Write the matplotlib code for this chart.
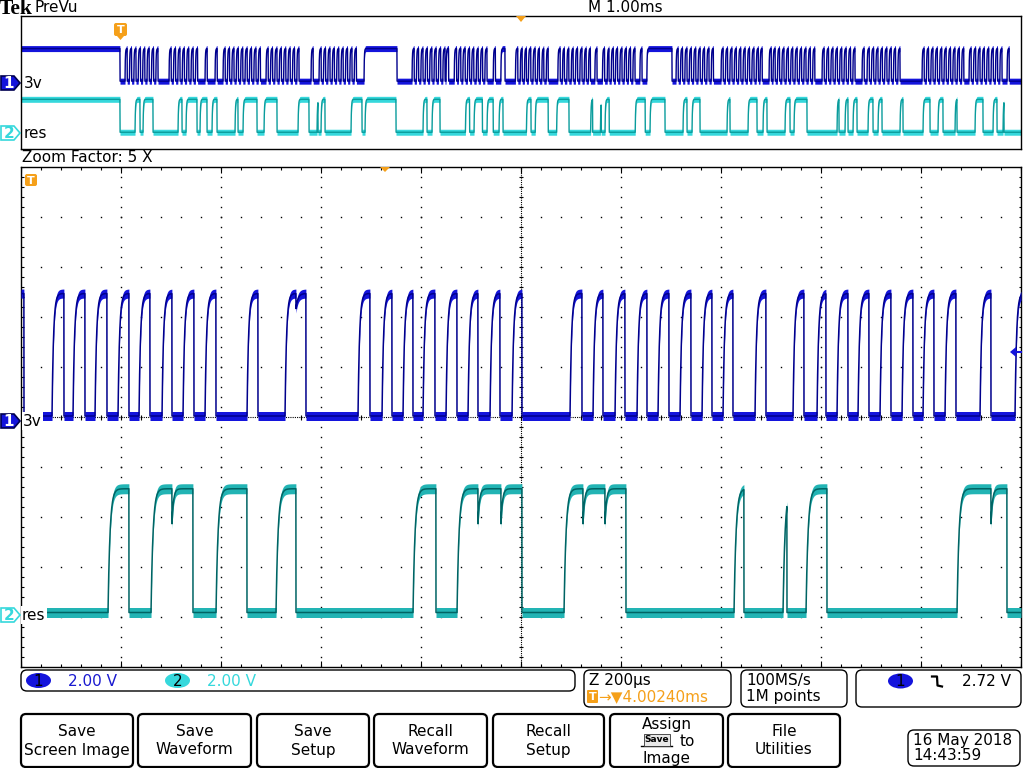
import numpy as np
import matplotlib
matplotlib.use("Agg")
import matplotlib.pyplot as plt
from matplotlib.patches import FancyBboxPatch, Polygon, Ellipse

W, H = 1024, 768

# ---- zoomed window, 200 us/div: times in us from the left edge, levels in volts
ch1_pulses = [(-20, 6), (62, 86), (104, 128), (148, 172), (194, 216), (236, 258),
              (282, 302), (324, 346), (368, 390), (452, 474), (528, 570),
              (674, 698), (722, 742), (764, 784), (804, 828), (850, 872),
              (894, 914), (938, 958), (982, 1002), (1098, 1122), (1144, 1164),
              (1188, 1208), (1232, 1252), (1274, 1296), (1318, 1340), (1362, 1382),
              (1404, 1424), (1468, 1490), (1544, 1566), (1592, 1610), (1632, 1654),
              (1674, 1696), (1718, 1740), (1762, 1784), (1804, 1826), (1848, 1870),
              (1918, 1940), (1988, 2010)]
ch1_dips = [550]
ch2_pulses = [(174, 216), (260, 344), (390, 452), (510, 550), (784, 830),
              (872, 1002), (1086, 1210), (1426, 1446), (1524, 1532),
              (1570, 1612), (1872, 1972)]
ch2_dips = [302, 914, 960, 1124, 1168, 1940]

ch1_low, ch1_high = 0.2, 5.1
ch2_low, ch2_high = 0.1, 5.05
volts_per_div = 2.0
ch1_gnd_div = -0.08
ch2_gnd_div = -3.96

# ---- preview (PreVu), 1 ms/div: times in ms
zoom_start_ms = 4.27
clock_period = 0.044
clock_high = 0.022
pv_ch1_long = [(-0.1, 0.99), (3.43, 3.76), (6.26, 6.51)]
pv_ch1_bursts = [(1.04, 8), (1.48, 7), (1.84, 1), (1.94, 1), (2.02, 9), (2.45, 8),
                 (2.90, 1), (2.98, 9), (3.91, 8), (6.55, 9), (7.00, 9), (7.39, 1),
                 (7.48, 1), (7.52, 10), (8.01, 8), (8.41, 1), (8.46, 8), (9.01, 10),
                 (9.48, 8), (9.86, 1)]
pv_ch2_pulses = [(-0.1, 0.99), (1.14, 1.19), (1.22, 1.32), (1.57, 1.61), (1.65, 1.76),
                 (1.79, 1.86), (1.91, 1.96), (2.14, 2.17), (2.22, 2.36), (2.43, 2.56),
                 (2.77, 2.88), (2.96, 2.97), (3.00, 3.04), (3.30, 3.41), (3.44, 3.75),
                 (4.02, 4.06), (4.11, 4.19), (6.29, 6.44), (6.62, 6.66), (6.71, 6.79),
                 (7.06, 7.09), (7.27, 7.36), (7.42, 7.46), (7.64, 7.69), (7.73, 7.86),
                 (8.16, 8.18), (8.24, 8.27), (8.32, 8.36), (8.47, 8.52), (8.57, 8.61),
                 (8.79, 8.82), (9.02, 9.09), (9.17, 9.22), (9.34, 9.36), (9.54, 9.62),
                 (9.72, 9.76), (9.82, 9.83)]
pv_ch1_gnd = 10.0
pv_ch2_gnd = 2.42

buttons = [(21, 133, "Save\nScreen Image"), (138, 251, "Save\nWaveform"),
           (257, 369, "Save\nSetup"), (374, 487, "Recall\nWaveform"),
           (493, 604, "Recall\nSetup"), (610, 723, None), (728, 840, "File\nUtilities")]

BLUE = '#1414dc'
NAVY = '#00008c'
TEAL = '#22b4b4'
DTEAL = '#006464'
CYAN = '#36d8dc'
ORANGE = '#f5a01a'


def merge(pulses):
    out = []
    for r, f in sorted(pulses):
        if out and r <= out[-1][1]:
            out[-1] = (out[-1][0], max(out[-1][1], f))
        else:
            out.append((r, f))
    return out


def build_trace(t, pulses, dips, low, high, tau, dip_depth=1.2, dip_tau=3.0):
    v = np.full(t.shape, low)
    for r, f in pulses:
        on = (t >= r) & (t < f)
        v[on] = low + (high - low) * (1 - np.exp(-(t[on] - r) / tau))
    for d in dips:
        for r, f in pulses:
            if r < d < f:
                on = (t >= d) & (t < f)
                v[on] -= dip_depth * np.exp(-(t[on] - d) / dip_tau)
    return v


def px_axes(x0, y0, x1, y1):
    return fig.add_axes([x0 / W, 1 - y1 / H, (x1 - x0) / W, (y1 - y0) / H])


fig = plt.figure(figsize=(W / 100, H / 100), dpi=100)
fig.patch.set_facecolor('white')

# ---------------- preview
pv = px_axes(21, 16, 1021, 149)
pv.set_xlim(0, 10)
pv.set_ylim(0, 20)
pv.set_xticks([])
pv.set_yticks([])
for s in pv.spines.values():
    s.set_linewidth(1.0)

tp = np.arange(0, 10.0005, 0.001)
pv1 = list(pv_ch1_long)
for start, n in pv_ch1_bursts:
    for k in range(n):
        pv1.append((start + k * clock_period, start + k * clock_period + clock_high))
pv1 += [(zoom_start_ms + r / 1000, zoom_start_ms + f / 1000) for r, f in ch1_pulses]
pv1 = merge(pv1)
pv2 = merge(pv_ch2_pulses + [(zoom_start_ms + r / 1000, zoom_start_ms + f / 1000)
                             for r, f in ch2_pulses])
v1p = pv_ch1_gnd + build_trace(tp, pv1, [], ch1_low, ch1_high, 0.003)
v2p = pv_ch2_gnd + build_trace(tp, pv2, [], ch2_low, ch2_high, 0.004)
pv.fill_between(tp, v1p - 0.45, v1p + 0.45, color=BLUE, lw=0)
pv.plot(tp, v1p, color=NAVY, lw=1.0)
pv.fill_between(tp, v2p - 0.45, v2p + 0.45, color=CYAN, lw=0)
pv.plot(tp, v2p, color='#0a9c9c', lw=1.0)

# ---------------- main graticule
ax = px_axes(21, 167, 1021, 667)
ax.set_xlim(0, 2000)
ax.set_ylim(-5, 5)
ax.set_xticks([])
ax.set_yticks([])
for s in ax.spines.values():
    s.set_linewidth(1.0)

ys = np.arange(-5, 5.001, 0.2)
xs = np.arange(0, 2000.1, 40)
for gx in range(200, 2000, 200):
    if gx == 1000:
        continue
    ax.plot(np.full(ys.shape, gx), ys, ls='none', marker='s', ms=1.0, mew=0, color='k')
for gy in range(-4, 5):
    if gy == 0:
        continue
    ax.plot(xs, np.full(xs.shape, gy), ls='none', marker='s', ms=1.0, mew=0, color='k')
ax.axvline(1000, color='k', lw=0.8, ls=(0, (1, 1)))
ax.axhline(0, color='k', lw=0.8, ls=(0, (1, 1)))
ax.hlines(ys, 996, 1004, color='k', lw=0.8)
ax.vlines(xs, -0.05, 0.05, color='k', lw=0.8)
# border ticks
ax.vlines(xs, 4.94, 5, color='k', lw=0.8)
ax.vlines(xs, -5, -4.94, color='k', lw=0.8)
ax.vlines(np.arange(0, 2001, 200), -5, -4.88, color='k', lw=0.8)
ax.vlines(np.arange(0, 2001, 200), 4.88, 5, color='k', lw=0.8)
ax.hlines(ys, 0, 5, color='k', lw=0.8)
ax.hlines(ys, 1995, 2000, color='k', lw=0.8)

t = np.arange(0, 2000.01, 0.25)
y1 = ch1_gnd_div + build_trace(t, ch1_pulses, ch1_dips, ch1_low, ch1_high, 3.0,
                               0.6, 4.0) / volts_per_div
y2 = ch2_gnd_div + build_trace(t, ch2_pulses, ch2_dips, ch2_low, ch2_high, 4.0,
                               1.4, 3.0) / volts_per_div
ax.fill_between(t, y1 - 0.09, y1 + 0.09, color=BLUE, lw=0, zorder=3)
ax.plot(t, y1, color=NAVY, lw=1.1, zorder=4)
ax.fill_between(t, y2 - 0.1, y2 + 0.1, color=TEAL, lw=0, zorder=3)
ax.plot(t, y2, color=DTEAL, lw=1.1, zorder=4)

# ---------------- screen chrome
ui = fig.add_axes([0, 0, 1, 1])
ui.set_xlim(0, W)
ui.set_ylim(H, 0)
ui.axis('off')
ui.patch.set_alpha(0)
ui.set_zorder(5)

FS = 11
ui.text(-1, 9, 'Tek', family='Liberation Serif', weight='bold', fontsize=15.5,
        va='center', ha='left')
ui.text(35, 8, 'PreVu', fontsize=FS, va='center')
ui.text(588, 8, 'M 1.00ms', fontsize=FS, va='center')
ui.text(22, 158, 'Zoom Factor: 5 X', fontsize=FS, va='center')
ui.add_patch(Polygon([(516, 16), (526, 16), (521, 22)], closed=True, fc=ORANGE, ec='none'))
ui.add_patch(Polygon([(380, 167), (390, 167), (385, 172)], closed=True, fc=ORANGE, ec='none'))


def t_marker(x, y, size=12):
    ui.add_patch(FancyBboxPatch((x, y), size, size, boxstyle='round,pad=0,rounding_size=2',
                                fc=ORANGE, ec='none'))
    ui.text(x + size / 2, y + size / 2 + 0.5, 'T', color='white', fontsize=8,
            weight='bold', ha='center', va='center')


t_marker(114, 23, 13)
ui.add_patch(Polygon([(117, 36), (124, 36), (120.5, 40)], closed=True, fc=ORANGE, ec='none'))
t_marker(25, 174, 12)


def ch_marker(y, label, fill, edge, tc):
    ui.add_patch(Polygon([(1, y - 7), (14, y - 7), (20, y), (14, y + 7), (1, y + 7)],
                         closed=True, fc=fill, ec=edge, lw=1.2))
    ui.text(9, y + 0.5, label, ha='center', va='center', color=tc, fontsize=FS,
            weight='bold')


ch_marker(83, '1', BLUE, '#000050', 'white')
ch_marker(133, '2', 'white', CYAN, CYAN)
ch_marker(421, '1', BLUE, '#000050', 'white')
ch_marker(615, '2', 'white', CYAN, CYAN)
lab = dict(fontsize=FS, va='center', ha='left')
ui.text(24, 83, '3v', **lab)
ui.text(24, 133, 'res', **lab)
ui.text(23, 421, '3v', bbox=dict(fc='white', ec='none', pad=1), **lab)
ui.text(22, 615, 'res', bbox=dict(fc='white', ec='none', pad=1), **lab)

# trigger level arrow on the right
ui.add_patch(Polygon([(1010, 352), (1016, 347), (1016, 357)], closed=True, fc=BLUE, ec='none'))
ui.plot([1015, 1021], [352, 352], color=BLUE, lw=1.5)


def box(x0, y0, x1, y1, r=6, lw=1.0):
    ui.add_patch(FancyBboxPatch((x0, y0), x1 - x0, y1 - y0,
                                boxstyle='round,pad=0,rounding_size=%d' % r,
                                fc='white', ec='black', lw=lw))


# status bar
box(21, 670, 575, 691)
ui.add_patch(Ellipse((38.5, 680.5), 25, 15, fc=BLUE, ec='none'))
ui.text(38.5, 681, '1', ha='center', va='center', fontsize=FS)
ui.text(68, 681, '2.00 V', color='#1a1ad0', fontsize=FS, va='center')
ui.add_patch(Ellipse((177.5, 680.5), 25, 15, fc=CYAN, ec='none'))
ui.text(177.5, 681, '2', ha='center', va='center', fontsize=FS)
ui.text(207, 681, '2.00 V', color=CYAN, fontsize=FS, va='center')

box(584, 670, 731, 707)
ui.text(589, 681, 'Z 200µs', fontsize=FS, va='center')
ui.add_patch(FancyBboxPatch((587, 690), 11, 13, boxstyle='round,pad=0,rounding_size=1',
                            fc=ORANGE, ec='none'))
ui.text(592.5, 697, 'T', color='white', fontsize=8, weight='bold', ha='center', va='center')
ui.text(598, 697, '→▼4.00240ms', color=ORANGE, fontsize=FS, va='center')

box(741, 670, 847, 707)
ui.text(746, 681, '100MS/s', fontsize=FS, va='center')
ui.text(746, 697, '1M points', fontsize=FS, va='center')

box(856, 670, 1021, 707)
ui.add_patch(Ellipse((900.5, 681), 25, 15, fc=BLUE, ec='none'))
ui.text(900.5, 681.5, '1', ha='center', va='center', fontsize=FS)
ui.plot([932, 937, 937.5, 942], [676.5, 676.5, 685.5, 686.5], color='k', lw=1.6)
ui.text(962, 681, '2.72 V', fontsize=FS, va='center')

# soft buttons
for x0, x1, label in buttons:
    box(x0, 714, x1, 767, r=5, lw=1.6)
    if label:
        ui.text((x0 + x1) / 2, 741, label, ha='center', va='center', fontsize=FS,
                linespacing=1.25)
ui.text(666.5, 724, 'Assign', ha='center', va='center', fontsize=FS)
ui.text(666.5, 758, 'Image', ha='center', va='center', fontsize=FS)
ui.text(657, 740, 'Save', ha='center', va='center', fontsize=6.5, weight='bold',
        bbox=dict(fc='#e8e8e8', ec='#333333', lw=0.6, pad=0.8))
ui.plot([641, 672], [746, 746], color='k', lw=1.0)
ui.text(680, 741, 'to', fontsize=FS, va='center')

box(908, 730, 1020, 766, r=6)
ui.text(913, 740, '16 May 2018', fontsize=FS, va='center')
ui.text(913, 756, '14:43:59', fontsize=FS, va='center')

fig.savefig('out.png', dpi=100)
